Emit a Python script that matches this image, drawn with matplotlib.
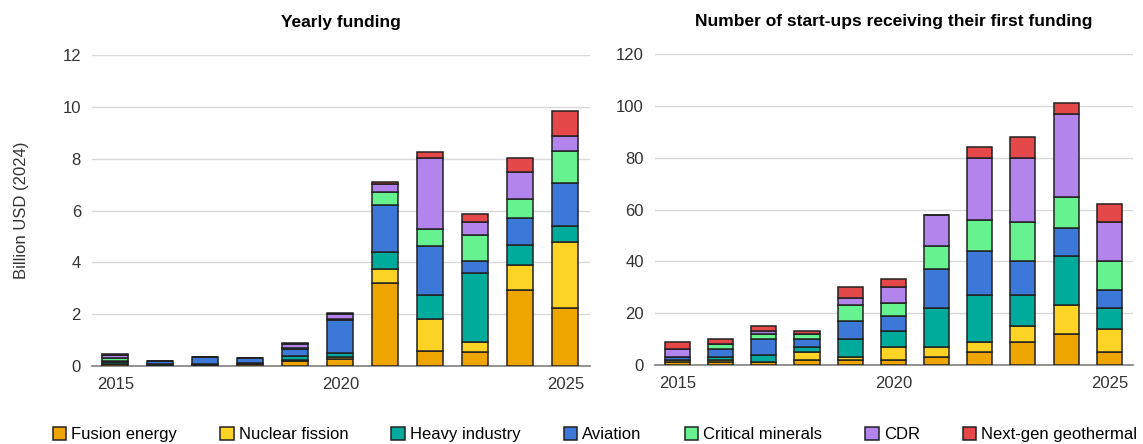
import matplotlib.pyplot as plt
import numpy as np

plt.rcParams['font.family'] = ['Liberation Sans', 'DejaVu Sans']

years = list(range(2015, 2026))
sectors = ['Fusion energy', 'Nuclear fission', 'Heavy industry', 'Aviation',
           'Critical minerals', 'CDR', 'Next-gen geothermal']
colors = ['#EFA500', '#FDD325', '#00AB9B', '#3C78D8', '#66F28E', '#B384EC', '#E44848']

# yearly funding, billion USD (2024)
fund_fusion = [0.07, 0.02, 0.03, 0.06, 0.20, 0.26, 3.19, 0.59, 0.54, 2.95, 2.23]
fund_nuclear = [0.02, 0.01, 0.00, 0.01, 0.05, 0.10, 0.55, 1.21, 0.40, 0.95, 2.57]
fund_heavy = [0.05, 0.05, 0.03, 0.05, 0.12, 0.15, 0.65, 0.94, 2.66, 0.77, 0.61]
fund_aviation = [0.07, 0.10, 0.28, 0.17, 0.30, 1.27, 1.83, 1.89, 0.47, 1.04, 1.64]
fund_minerals = [0.10, 0.01, 0.01, 0.00, 0.04, 0.03, 0.49, 0.67, 0.99, 0.75, 1.25]
fund_cdr = [0.12, 0.01, 0.01, 0.03, 0.15, 0.20, 0.30, 2.72, 0.51, 1.03, 0.58]
fund_geo = [0.02, 0.00, 0.00, 0.00, 0.02, 0.04, 0.08, 0.25, 0.30, 0.53, 0.97]

# number of start-ups receiving first funding
cnt_fusion = [1, 1, 1, 2, 2, 2, 3, 5, 9, 12, 5]
cnt_nuclear = [1, 1, 0, 3, 1, 5, 4, 4, 6, 11, 9]
cnt_heavy = [0, 1, 3, 2, 7, 6, 15, 18, 12, 19, 8]
cnt_aviation = [1, 3, 6, 3, 7, 6, 15, 17, 13, 11, 7]
cnt_minerals = [0, 2, 2, 2, 6, 5, 9, 12, 15, 12, 11]
cnt_cdr = [3, 0, 1, 0, 3, 6, 12, 24, 25, 32, 15]
cnt_geo = [3, 2, 2, 1, 4, 3, 0, 4, 8, 4, 7]

funding = [fund_fusion, fund_nuclear, fund_heavy, fund_aviation,
           fund_minerals, fund_cdr, fund_geo]
counts = [cnt_fusion, cnt_nuclear, cnt_heavy, cnt_aviation,
          cnt_minerals, cnt_cdr, cnt_geo]

fig = plt.figure(figsize=(11.43, 4.44), dpi=100)
ax1 = fig.add_axes([92 / 1143, 78 / 444, 498 / 1143, 311 / 444])
ax2 = fig.add_axes([655 / 1143, 79 / 444, 478 / 1143, 311 / 444])


def stack(ax, data, ymax, step):
    bottom = np.zeros(len(years))
    for vals, col, name in zip(data, colors, sectors):
        ax.bar(years, vals, 0.58, bottom=bottom, color=col, edgecolor='#222222',
               linewidth=1.1, label=name, zorder=3)
        bottom += np.array(vals)
    ax.set_ylim(0, ymax)
    ax.set_yticks(np.arange(0, ymax + step / 2, step))
    ax.set_xlim(2014.48, 2025.55)
    ax.set_xticks([2015, 2020, 2025])
    ax.grid(axis='y', color='#d9d9d9', linewidth=1, zorder=0)
    for s in ['left', 'right', 'top']:
        ax.spines[s].set_visible(False)
    ax.spines['bottom'].set_color('#808080')
    ax.spines['bottom'].set_linewidth(1.2)
    ax.tick_params(length=0, labelsize=12, colors='#333333', pad=8)


stack(ax1, funding, 12, 2)
stack(ax2, counts, 120, 20)

ax1.set_title('Yearly funding', fontsize=12.5, fontweight='bold', pad=20)
ax2.set_title('Number of start-ups receiving their first funding',
              fontsize=12.5, fontweight='bold', pad=20)
ax1.set_ylabel('Billion USD (2024)', fontsize=12, color='#333333', labelpad=24)

handles, labels = ax1.get_legend_handles_labels()
fig.legend(handles, labels, loc='lower center', bbox_to_anchor=(0.5206, -0.03),
           ncol=7, frameon=False, fontsize=12, handlelength=0.8, handleheight=0.8,
           handletextpad=0.3, columnspacing=2.6)

plt.savefig('out.png', dpi=100)
